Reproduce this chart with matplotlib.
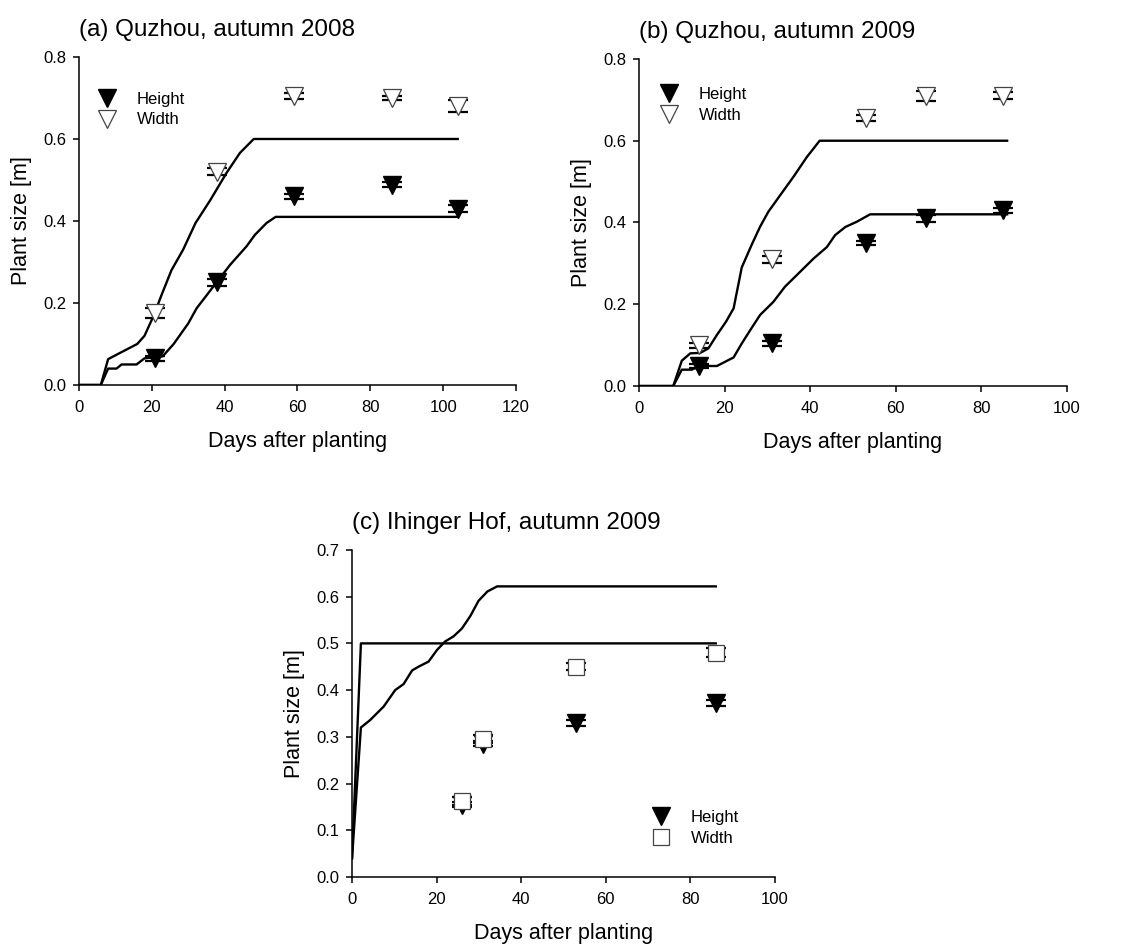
import matplotlib
matplotlib.use("Agg")
import matplotlib.pyplot as plt

plt.rcParams['font.family'] = ['Liberation Sans', 'DejaVu Sans']

# (a) Quzhou 2008 -- observations
a_days = [21, 38, 59, 86, 104]
a_height = [0.065, 0.25, 0.46, 0.488, 0.43]
a_height_err = [0.006, 0.008, 0.007, 0.006, 0.008]
a_width = [0.175, 0.52, 0.705, 0.70, 0.68]
a_width_err = [0.012, 0.008, 0.007, 0.006, 0.014]

# (a) simulated curves
a_sim_w_days = [0, 6, 8, 11, 16, 18, 20.4, 22.7, 25.4, 28.6, 32, 36, 40.5, 44.2, 48, 104]
a_sim_w = [0, 0, 0.063, 0.077, 0.10, 0.12, 0.167, 0.22, 0.28, 0.33, 0.395, 0.45, 0.517, 0.566, 0.60, 0.60]
a_sim_h_days = [0, 6, 8, 10.3, 11.7, 15.8, 18, 23, 26, 30, 32.3, 36.9, 41.5, 46, 48.3, 51.5, 54, 104]
a_sim_h = [0, 0, 0.04, 0.04, 0.05, 0.05, 0.065, 0.07, 0.10, 0.15, 0.187, 0.24, 0.293, 0.338, 0.366, 0.395, 0.41, 0.41]

# (b) Quzhou 2009 -- observations
b_days = [14, 31, 53, 67, 85]
b_height = [0.05, 0.105, 0.35, 0.41, 0.43]
b_height_err = [0.005, 0.006, 0.005, 0.008, 0.006]
b_width = [0.10, 0.31, 0.655, 0.71, 0.71]
b_width_err = [0.006, 0.008, 0.007, 0.012, 0.008]

# (b) simulated curves
b_sim_w_days = [0, 8, 10, 12, 14.3, 16.2, 18.2, 20.3, 22.1, 24, 26.3, 28.3, 30.2, 33, 36.1, 39.2, 42.2, 86]
b_sim_w = [0, 0, 0.062, 0.08, 0.081, 0.092, 0.125, 0.157, 0.19, 0.29, 0.345, 0.39, 0.426, 0.467, 0.512, 0.56, 0.60, 0.60]
b_sim_h_days = [0, 8, 10, 12.3, 14.3, 18.2, 22.1, 24, 26, 28.3, 31.4, 34.1, 37.6, 40.8, 43.9, 45.8, 48.2, 50.9, 54, 86]
b_sim_h = [0, 0, 0.04, 0.04, 0.049, 0.049, 0.07, 0.104, 0.137, 0.174, 0.206, 0.243, 0.279, 0.312, 0.34, 0.369, 0.389, 0.402, 0.42, 0.42]

# (c) Ihinger Hof 2009 -- observations
c_days = [26, 31, 53, 86]
c_height = [0.155, 0.285, 0.33, 0.372]
c_height_err = [0.005, 0.005, 0.006, 0.007]
c_width = [0.163, 0.295, 0.45, 0.48]
c_width_err = [0.008, 0.008, 0.007, 0.01]

# (c) simulated curves
c_sim_w_days = [0, 2.1, 86]
c_sim_w = [0.04, 0.50, 0.50]
c_sim_h_days = [0, 2.1, 4.3, 7.5, 10.2, 12.2, 14.2, 15.7, 18.1, 20.1, 22, 24, 26, 28, 29.9, 32, 34.3, 86]
c_sim_h = [0.04, 0.32, 0.336, 0.365, 0.40, 0.413, 0.442, 0.45, 0.461, 0.486, 0.504, 0.515, 0.532, 0.559, 0.591, 0.611, 0.622, 0.622]

MS = 12.5
EDGE = '#444444'


def style_axes(ax, xmax, ymax, ystep, title):
    ax.set_xlim(0, xmax)
    ax.set_ylim(0, ymax)
    ax.set_xticks(range(0, xmax + 1, 20))
    n = int(round(ymax / ystep))
    ax.set_yticks([i * ystep for i in range(n + 1)])
    ax.yaxis.set_major_formatter(matplotlib.ticker.FormatStrFormatter('%.1f'))
    for s in ('top', 'right'):
        ax.spines[s].set_visible(False)
    for s in ('left', 'bottom'):
        ax.spines[s].set_linewidth(1.1)
    ax.tick_params(direction='out', length=4, width=1.1, labelsize=12)
    ax.tick_params(axis='x', pad=7)
    ax.tick_params(axis='y', pad=5)
    ax.set_xlabel('Days after planting', fontsize=15.5, labelpad=11)
    ax.set_ylabel('Plant size [m]', fontsize=15.5, labelpad=8)
    ax.set_title(title, loc='left', fontsize=17.5, pad=15)


def observations(ax, days, height, height_err, width, width_err, width_marker):
    ax.errorbar(days, height, yerr=height_err, fmt='none', ecolor='black',
                elinewidth=1.2, capsize=7.5, capthick=1.6, zorder=3)
    ax.plot(days, height, ls='none', marker='v', ms=MS, mfc='black',
            mec='black', label='Height', zorder=4)
    ax.errorbar(days, width, yerr=width_err, fmt='none', ecolor='black',
                elinewidth=1.2, capsize=7.5, capthick=1.6, zorder=5)
    ms = MS if width_marker == 'v' else 11
    ax.plot(days, width, ls='none', marker=width_marker, ms=ms, mfc='white',
            mec=EDGE, mew=0.9, label='Width', zorder=6)


def add_legend(ax, anchor):
    ax.legend(loc='upper left', bbox_to_anchor=anchor, frameon=False,
              fontsize=12, handlelength=1.2, handletextpad=1.2,
              labelspacing=0.35, borderaxespad=0)


fig = plt.figure(figsize=(11.33, 9.48), dpi=100)
ax_a = fig.add_axes([0.0697, 0.5939, 0.3857, 0.346])
ax_b = fig.add_axes([0.5640, 0.5928, 0.3778, 0.345])
ax_c = fig.add_axes([0.3107, 0.0749, 0.3733, 0.345])

# (a)
ax_a.plot(a_sim_w_days, a_sim_w, color='black', lw=1.7, zorder=2)
ax_a.plot(a_sim_h_days, a_sim_h, color='black', lw=1.7, zorder=2)
observations(ax_a, a_days, a_height, a_height_err, a_width, a_width_err, 'v')
style_axes(ax_a, 120, 0.8, 0.2, '(a) Quzhou, autumn 2008')
add_legend(ax_a, (0.025, 0.915))

# (b)
ax_b.plot(b_sim_w_days, b_sim_w, color='black', lw=1.7, zorder=2)
ax_b.plot(b_sim_h_days, b_sim_h, color='black', lw=1.7, zorder=2)
observations(ax_b, b_days, b_height, b_height_err, b_width, b_width_err, 'v')
style_axes(ax_b, 100, 0.8, 0.2, '(b) Quzhou, autumn 2009')
add_legend(ax_b, (0.03, 0.935))

# (c)
ax_c.plot(c_sim_w_days, c_sim_w, color='black', lw=1.7, zorder=2)
ax_c.plot(c_sim_h_days, c_sim_h, color='black', lw=1.7, zorder=2)
observations(ax_c, c_days, c_height, c_height_err, c_width, c_width_err, 's')
style_axes(ax_c, 100, 0.7, 0.1, '(c) Ihinger Hof, autumn 2009')
add_legend(ax_c, (0.69, 0.225))

fig.savefig('out.png', dpi=100)
